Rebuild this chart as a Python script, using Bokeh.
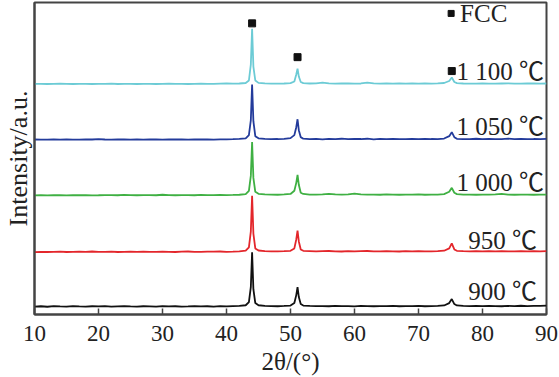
from bokeh.plotting import figure
from bokeh.models import ColumnDataSource, FixedTicker, Range1d
from bokeh.core.properties import value
from bokeh.embed import file_html
from bokeh.resources import INLINE

# ---- data ----
two_theta = (list(range(10, 44)) + [43.5, 43.8, 44.0, 44.2, 44.5] + list(range(45, 51))
             + [50.6, 50.9, 51.1, 51.3, 51.6] + list(range(52, 75)) + [74.8, 75.2, 75.6]
             + list(range(76, 91)))

i_900 = ([0.5,0.8,0.3,0.9,0.6,0.4,1.0,0.7,0.5,0.8,0.6,0.9,0.4,0.7,1.0,0.6,0.5,0.8,0.7,0.4,0.9,0.6,0.8,0.5,0.7,1.0,0.6,0.8,0.5,0.9,0.7,1.0,1.2,1.8]
         + [5, 20, 55, 18, 4] + [1.8,1.2,1.0,0.8,1.1,1.5] + [4, 12, 20, 10, 3]
         + [1.5,1.1,0.9,1.0,0.8,1.2,0.9,1.0,0.7,1.1,0.9,0.8,1.0,0.9,1.2,0.8,1.0,0.9,1.1,0.8,1.0,1.2,1.6]
         + [4, 8, 3] + [1.6,1.2,1.0,1.1,0.9,1.2,1.0,0.8,1.1,1.0,1.3,0.9,1.1,1.2,1.5])
i_950 = ([0.3,0.6,0.4,0.5,0.8,0.4,0.6,0.7,0.5,0.9,0.6,0.5,0.7,0.4,0.6,0.8,0.5,0.7,0.6,0.5,0.8,0.6,0.4,0.7,0.9,0.6,0.5,0.8,0.7,0.9,0.6,0.8,1.1,1.7]
         + [5, 21, 57, 19, 4] + [1.9,1.3,1.0,1.0,1.2,1.6] + [4, 13, 22, 11, 3]
         + [1.6,1.3,1.0,1.2,1.4,1.1,0.9,1.3,1.0,1.2,1.4,1.1,1.0,1.3,1.1,0.9,1.2,1.0,1.3,1.1,1.0,1.3,1.7]
         + [4, 9, 3] + [1.6,1.3,1.1,1.2,1.0,1.3,1.1,1.2,1.0,1.1,1.3,1.0,1.2,1.1,1.2])
i_1000 = ([0.4,0.5,0.3,0.6,0.5,0.4,0.7,0.5,0.6,0.4,0.5,0.7,0.6,0.5,0.8,0.6,0.5,0.7,0.6,0.5,1.0,0.6,0.5,0.7,0.6,0.5,0.8,0.6,0.7,0.9,0.7,0.8,1.0,1.6]
          + [5, 20, 54, 18, 4] + [2.0,1.4,1.2,1.0,1.3,1.8] + [5, 13, 21, 11, 3]
          + [1.8,1.2,1.1,1.3,2.0,1.3,1.1,1.4,2.1,1.3,1.1,1.2,1.0,1.3,1.1,1.0,1.2,1.1,1.3,1.0,1.1,1.2,1.7]
          + [4, 8, 3] + [1.7,1.2,1.1,1.0,1.2,1.1,1.3,1.9,1.2,1.0,1.1,1.2,1.0,1.1,1.2])
i_1050 = ([0.6,0.4,0.5,0.7,0.5,0.6,0.4,0.5,0.7,0.6,0.9,0.6,0.5,0.7,0.6,0.4,0.6,0.5,0.7,0.6,0.5,0.7,0.6,0.8,0.5,0.6,0.7,0.6,0.5,0.7,0.8,0.9,1.2,1.8]
          + [5, 20, 56, 19, 4] + [1.8,1.3,1.0,1.1,1.3,2.0] + [5, 13, 21, 10, 3]
          + [1.4,0.9,1.2,0.8,1.3,1.0,1.4,0.9,1.2,1.1,1.4,0.8,1.2,1.0,1.3,1.1,0.9,1.2,1.0,1.3,1.1,1.0,1.6]
          + [4, 8, 3] + [1.3,0.9,1.1,1.4,1.0,1.2,0.9,1.1,1.5,1.0,1.2,0.9,1.1,1.0,1.2])
i_1100 = ([0.6,0.7,0.5,0.6,0.8,0.6,0.5,0.7,0.6,0.5,0.7,0.6,0.8,0.5,0.7,0.6,0.5,0.6,0.7,0.5,0.6,0.8,0.6,0.7,0.5,0.6,0.8,0.7,0.6,0.9,1.0,0.8,1.0,1.5]
          + [4, 20, 56, 18, 4] + [1.6,1.1,0.9,0.8,1.0,1.3] + [3, 10, 16, 8, 2.5]
          + [1.3,1.0,1.2,1.9,1.1,0.9,1.0,1.1,0.8,1.0,1.9,1.2,0.9,1.0,0.8,1.1,0.9,1.0,0.8,1.0,0.9,1.1,1.5]
          + [3.5, 7, 2.5] + [1.4,1.0,0.8,0.9,1.1,0.8,0.9,1.0,1.1,0.9,0.8,1.0,1.1,0.9,1.0])

series_names = ["900 ℃", "950 ℃", "1 000 ℃", "1 050 ℃", "1 100 ℃"]
series_data = [i_900, i_950, i_1000, i_1050, i_1100]
offsets = [7.5, 62.5, 119.5, 175.5, 231.5]
colors = ["#111111", "#e3262b", "#3fb043", "#233b9b", "#6ccbd5"]

# FCC peak markers
fcc_x = [44.0, 51.1, 75.2]
fcc_y = [293, 259, 245]

# label positions
label_x = [88.5, 88.5, 89.6, 89.6, 89.6]
label_y = [23, 74, 133, 189, 245]

x_ticks = [10, 20, 30, 40, 50, 60, 70, 80, 90]

SERIF = "Liberation Serif"
LABEL_FONT = "'Liberation Serif', 'Noto Sans CJK SC'"

p = figure(width=559, height=377, output_backend="svg", toolbar_location=None,
           x_range=Range1d(10, 90), y_range=Range1d(0, 314),
           min_border_left=33, min_border_right=13, min_border_top=2, min_border_bottom=61)
p.background_fill_color = "white"
p.border_fill_color = "white"
p.grid.visible = False
p.outline_line_color = "#444444"
p.outline_line_width = 2

for ys, off, c in zip(series_data, offsets, colors):
    src = ColumnDataSource(dict(x=two_theta, y=[v + off for v in ys]))
    p.line("x", "y", source=src, line_color=c, line_width=1.8)

p.scatter(fcc_x, fcc_y, marker="square", size=7, fill_color="#111111", line_color="#111111")
p.scatter([75.1], [303], marker="square", size=6, fill_color="#111111", line_color="#111111")
p.text([76.5], [303], text=["FCC"], text_font=value(SERIF), text_font_size="25px",
       text_baseline="middle", text_align="left", text_color="#222222")

p.text(label_x, label_y, text=series_names, text_font=value(LABEL_FONT), text_font_size="25px",
       text_baseline="middle", text_align="right", text_color="#222222")

xa = p.xaxis[0]
xa.ticker = FixedTicker(ticks=x_ticks)
xa.major_tick_in = 6
xa.major_tick_out = 0
xa.minor_tick_line_color = None
xa.axis_line_color = "#444444"
xa.axis_line_width = 2
xa.major_tick_line_color = "#444444"
xa.major_tick_line_width = 1.5
xa.major_label_text_font = SERIF
xa.major_label_text_font_size = "23px"
xa.major_label_text_color = "#222222"
xa.major_label_standoff = 11
xa.axis_label = "2θ/(°)"
xa.axis_label_text_font = SERIF
xa.axis_label_text_font_style = "normal"
xa.axis_label_text_font_size = "25px"
xa.axis_label_text_color = "#222222"
xa.axis_label_standoff = 4

ya = p.yaxis[0]
ya.ticker = FixedTicker(ticks=[])
ya.major_tick_line_color = None
ya.minor_tick_line_color = None
ya.major_label_text_font_size = "0px"
ya.axis_line_color = "#444444"
ya.axis_line_width = 2
ya.axis_label = "Intensity/a.u."
ya.axis_label_text_font = SERIF
ya.axis_label_text_font_style = "normal"
ya.axis_label_text_font_size = "26px"
ya.axis_label_text_color = "#222222"
ya.axis_label_standoff = 2

open("out.html", "w").write(file_html(p, INLINE))
